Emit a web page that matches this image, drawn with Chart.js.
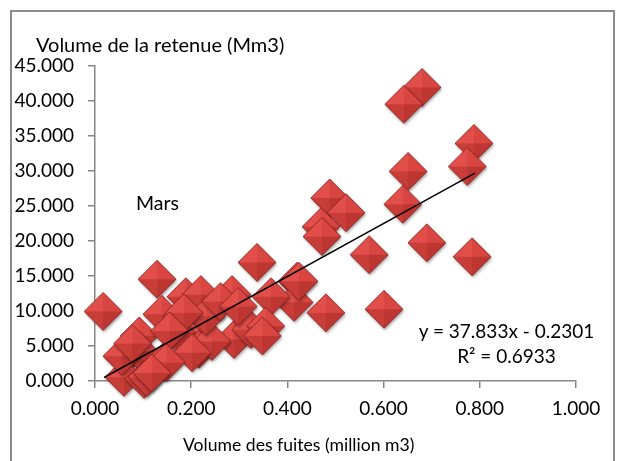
<!DOCTYPE html>
<html>
<head>
<meta charset="utf-8">
<script src="https://cdn.jsdelivr.net/npm/chart.js@4/dist/chart.umd.min.js"></script>
<style>
  html, body { margin: 0; padding: 0; background: #fff; }
  #wrap { position: relative; width: 619px; height: 461px; overflow: hidden; font-family: Lato, sans-serif; color: #000; }
  #frame { position: absolute; left: 10px; top: 10px; width: 605px; height: 480px; border: 2px solid #8c8c8c; box-sizing: border-box; }
  #cv { position: absolute; left: 0; top: 0; }
  .txt { position: absolute; font-size: 19px; white-space: nowrap; line-height: 1; }
</style>
</head>
<body>
<div id="wrap">
  <div id="frame"></div>
  <canvas id="cv" width="619" height="461"></canvas>
  <div class="txt" style="left:36px;top:34px;font-size:20px">Volume de la retenue (Mm3)</div>
  <div class="txt" style="left:136px;top:193px;font-size:19.5px">Mars</div>
  <div class="txt" style="left:418px;top:321px;width:177px;text-align:center">y = 37.833x - 0.2301</div>
  <div class="txt" style="left:418px;top:346px;width:177px;text-align:center">R² = 0.6933</div>
  <div class="txt" style="left:183px;top:436px;font-size:17.6px">Volume des fuites (million m3)</div>
</div>
<script>
// values
const fuites = [0.682, 0.644, 0.790, 0.776, 0.653, 0.642, 0.490, 0.524, 0.472, 0.474, 0.572, 0.692, 0.786,
  0.422, 0.416, 0.482, 0.603, 0.019, 0.131, 0.191, 0.222, 0.287, 0.339, 0.368, 0.426, 0.141, 0.183,
  0.094, 0.218, 0.291, 0.326, 0.357, 0.350, 0.218, 0.069, 0.094, 0.146, 0.062, 0.104, 0.110, 0.170,
  0.245, 0.233, 0.187, 0.157, 0.204, 0.150, 0.058, 0.080, 0.263, 0.300, 0.120];
const retenue = [41.8, 39.4, 33.8, 30.5, 29.8, 25.1, 26.0, 23.9, 21.9, 20.5, 17.9, 19.6, 17.6,
  14.1, 11.1, 9.6, 10.1, 9.8, 14.4, 11.9, 12.2, 12.2, 16.8, 11.9, 14.1, 9.4, 9.2,
  6.3, 6.9, 5.8, 7.2, 7.7, 6.3, 4.4, 3.6, 4.1, 2.7, 0.4, 0.1, 0.4, 6.8,
  5.5, 9.1, 9.6, 7.0, 3.9, 2.5, 3.4, 5.2, 11.2, 10.5, 1.0];
const trendX = [0.019, 0.790];
const trendY = [0.5, 29.7];
const xTicks = [0, 0.2, 0.4, 0.6, 0.8, 1.0];
const yTicks = [0, 5, 10, 15, 20, 25, 30, 35, 40, 45];

// pyramid-shaded diamond marker
function diamond(r) {
  const s = 2 * r + 8;
  const c = document.createElement('canvas');
  c.width = s; c.height = s;
  const g = c.getContext('2d');
  const cx = s / 2 - 1, cy = s / 2 - 1;
  const T = [cx, cy - r], R = [cx + r, cy], B = [cx, cy + r], L = [cx - r, cy], C = [cx, cy];
  g.save();
  g.shadowColor = 'rgba(0,0,0,0.35)'; g.shadowBlur = 3; g.shadowOffsetX = 1; g.shadowOffsetY = 2;
  g.beginPath(); g.moveTo(...T); g.lineTo(...R); g.lineTo(...B); g.lineTo(...L); g.closePath();
  g.fillStyle = '#c23a35'; g.fill();
  g.restore();
  const facet = (a, b, col) => { g.beginPath(); g.moveTo(...a); g.lineTo(...b); g.lineTo(...C); g.closePath(); g.fillStyle = col; g.fill(); };
  facet(L, T, '#e24f4a');
  facet(T, R, '#d94641');
  facet(R, B, '#bd3631');
  facet(B, L, '#c83d38');
  g.beginPath(); g.moveTo(...T); g.lineTo(...R); g.lineTo(...B); g.lineTo(...L); g.closePath();
  g.strokeStyle = 'rgba(120,30,28,0.75)'; g.lineWidth = 1; g.stroke();
  return c;
}

const axisColor = '#868686';
const tickFont = { family: 'Lato', size: 19 };

new Chart(document.getElementById('cv'), {
  type: 'scatter',
  data: {
    datasets: [
      {
        type: 'line',
        data: trendX.map((x, i) => ({ x, y: trendY[i] })),
        borderColor: '#000', borderWidth: 1.5, pointRadius: 0, fill: false, clip: false
      },
      {
        data: fuites.map((x, i) => ({ x, y: retenue[i] })),
        pointStyle: diamond(19), pointRadius: 19, clip: false
      }
    ]
  },
  options: {
    responsive: false,
    animation: false,
    layout: { padding: { top: 66, right: 43, left: 0, bottom: 0 } },
    plugins: { legend: { display: false }, tooltip: { enabled: false } },
    scales: {
      x: {
        type: 'linear', min: 0, max: 1,
        afterBuildTicks: s => { s.ticks = xTicks.map(v => ({ value: v })); },
        afterFit: s => { s.height = 80; },
        grid: { drawOnChartArea: false, color: axisColor, tickLength: 7, lineWidth: 1.5 },
        border: { color: axisColor, width: 1.5 },
        ticks: { color: '#000', font: tickFont, padding: 9, maxRotation: 0, callback: v => v.toFixed(3) }
      },
      y: {
        type: 'linear', min: 0, max: 45,
        afterBuildTicks: s => { s.ticks = yTicks.map(v => ({ value: v })); },
        afterFit: s => { s.width = 95; },
        grid: { drawOnChartArea: false, color: axisColor, tickLength: 7, lineWidth: 1.5 },
        border: { color: axisColor, width: 1.5 },
        ticks: { color: '#000', font: tickFont, padding: 14, callback: v => v.toFixed(3) }
      }
    }
  }
});
</script>
</body>
</html>
